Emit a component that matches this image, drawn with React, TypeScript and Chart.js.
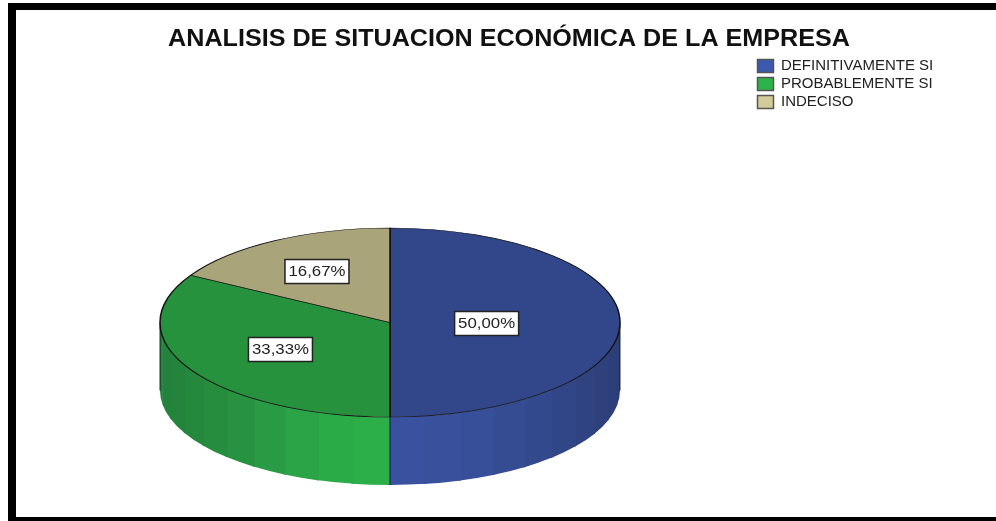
import React, { useEffect, useRef } from "react";
import { Chart, registerables } from "chart.js";

Chart.register(...registerables);

const TITLE = "ANALISIS DE SITUACION ECONÓMICA DE LA EMPRESA";
const categories = ["DEFINITIVAMENTE SI", "PROBABLEMENTE SI", "INDECISO"];
const shares = [50.0, 33.33, 16.67];
const topColors = ["#31478A", "#26923D", "#A9A47A"];
const legendColors = ["#3B5AAE", "#2CB34A", "#D0CB98"];
const wallStops = [
  ["#2C3E78", "#33498C", "#384F9A", "#3A52A0"],
  ["#2CB04A", "#2BA747", "#279241", "#23803A"],
  ["#A9A47A", "#A9A47A", "#A9A47A", "#A9A47A"],
];
const labelRadius = [0.42, 0.55, 0.635];

const CX = 390;
const CY = 322.5;
const RX = 230;
const SQUASH = 0.411;
const DEPTH = 68;
const FACET = Math.PI / 20;
const FONT = "'Liberation Sans', Arial, sans-serif";

function rgb(hex: string) {
  return [1, 3, 5].map((p) => parseInt(hex.slice(p, p + 2), 16));
}

function shade(stops: string[], t: number) {
  const pos = Math.min(Math.max(t, 0), 0.9999) * (stops.length - 1);
  const i = Math.floor(pos);
  const a = rgb(stops[i]);
  const b = rgb(stops[i + 1]);
  const c = a.map((v, k) => Math.round(v + (b[k] - v) * (pos - i)));
  return `rgb(${c[0]},${c[1]},${c[2]})`;
}

const pie3d = {
  id: "pie3d",
  beforeDraw(chart: any) {
    const { ctx, width, height } = chart;
    ctx.save();
    ctx.fillStyle = "#000";
    ctx.fillRect(8, 3, width - 8, height - 3);
    ctx.fillStyle = "#fff";
    ctx.fillRect(16, 10, width - 16, 507);
    ctx.restore();
  },
  afterLayout(chart: any) {
    const t = chart.titleBlock;
    const l = chart.legend;
    const titleShift = 509 - (t.left + t.right) / 2;
    t.left += titleShift;
    t.right += titleShift;
    if (!t.__stretched) {
      t.__stretched = true;
      const draw = t.draw.bind(t);
      t.draw = () => {
        const { ctx } = chart;
        ctx.save();
        ctx.translate(509, 0);
        ctx.scale(1.07, 1);
        ctx.translate(-509, 0);
        draw();
        ctx.restore();
      };
    }
    const dx = 754.5 - l.left;
    const dy = 55.5 - l.top;
    l.left += dx;
    l.right += dx;
    l.top += dy;
    l.bottom += dy;
  },
  beforeDatasetsDraw(chart: any) {
    const { ctx } = chart;
    const arcs = chart.getDatasetMeta(0).data;
    const ry = RX * SQUASH;
    arcs.forEach((arc: any, i: number) => {
      const a0 = Math.max(arc.startAngle, 0);
      const a1 = Math.min(arc.endAngle, Math.PI);
      if (a1 <= a0) return;
      const stops = wallStops[i];
      const x0 = CX + RX * Math.cos(a0);
      const x1 = CX + RX * Math.cos(a1);
      for (let a = a0; a < a1 - 1e-6; a += FACET) {
        const b = Math.min(a + FACET, a1);
        const xa = CX + RX * Math.cos(a);
        const xb = CX + RX * Math.cos(b);
        const t = ((xa + xb) / 2 - x0) / (x1 - x0);
        const end = Math.min(b + 0.012, a1);
        ctx.save();
        ctx.beginPath();
        ctx.ellipse(CX, CY, RX, ry, 0, a, end);
        ctx.ellipse(CX, CY + DEPTH, RX, ry, 0, end, a, true);
        ctx.closePath();
        ctx.fillStyle = shade(stops, t);
        ctx.fill();
        ctx.restore();
      }
    });
    ctx.save();
    ctx.strokeStyle = "rgba(10,20,25,0.85)";
    ctx.lineWidth = 1;
    ctx.beginPath();
    ctx.moveTo(CX, CY + ry);
    ctx.lineTo(CX, CY + ry + DEPTH);
    ctx.moveTo(CX - RX, CY);
    ctx.lineTo(CX - RX, CY + DEPTH);
    ctx.moveTo(CX + RX, CY);
    ctx.lineTo(CX + RX, CY + DEPTH);
    ctx.stroke();
    ctx.restore();
    const a = arcs[0];
    ctx.save();
    ctx.translate(CX, CY);
    ctx.scale(1, SQUASH);
    ctx.translate(-a.x, -a.y);
  },
  afterDatasetsDraw(chart: any) {
    const { ctx } = chart;
    ctx.restore();
    const arcs = chart.getDatasetMeta(0).data;
    ctx.save();
    ctx.font = `15px ${FONT}`;
    ctx.textAlign = "center";
    ctx.textBaseline = "middle";
    arcs.forEach((arc: any, i: number) => {
      const mid = (arc.startAngle + arc.endAngle) / 2;
      const r = RX * labelRadius[i];
      const x = CX + r * Math.cos(mid);
      const y = CY + r * Math.sin(mid) * SQUASH + 1;
      const w = 64;
      const h = 24;
      ctx.fillStyle = "#fff";
      ctx.strokeStyle = "#222";
      ctx.lineWidth = 1.5;
      ctx.fillRect(x - w / 2, y - h / 2, w, h);
      ctx.strokeRect(x - w / 2, y - h / 2, w, h);
      ctx.fillStyle = "#222";
      ctx.save();
      ctx.translate(x, y + 0.5);
      ctx.scale(1.12, 1);
      ctx.fillText(shares[i].toFixed(2).replace(".", ",") + "%", 0, 0);
      ctx.restore();
    });
    ctx.restore();
  },
};

export default function App() {
  const ref = useRef<HTMLCanvasElement | null>(null);
  useEffect(() => {
    document.body.style.margin = "0";
    const chart = new Chart(ref.current as HTMLCanvasElement, {
      type: "pie",
      data: {
        labels: categories,
        datasets: [
          {
            data: shares,
            backgroundColor: topColors,
            borderColor: "#111",
            borderWidth: 1.5,
            radius: RX,
            clip: false,
          } as any,
        ],
      },
      options: {
        animation: false,
        responsive: false,
        events: [],
        plugins: {
          tooltip: { enabled: false },
          title: {
            display: true,
            text: TITLE,
            color: "#111",
            font: { family: FONT, size: 23.5, weight: "bold" },
            padding: { top: 25, bottom: 0 },
          },
          legend: {
            display: true,
            position: "right",
            align: "start",
            labels: {
              boxWidth: 16,
              boxHeight: 13,
              padding: 3,
              color: "#222",
              font: { family: FONT, size: 15 },
              generateLabels: () =>
                categories.map((text, i) => ({
                  text,
                  fillStyle: legendColors[i],
                  strokeStyle: "#555",
                  lineWidth: 1.5,
                  fontColor: "#222",
                  hidden: false,
                  index: i,
                })),
            },
          },
        },
      } as any,
      plugins: [pie3d as any],
    });
    return () => chart.destroy();
  }, []);
  return <canvas ref={ref} width={996} height={521} style={{ display: "block" }} />;
}
